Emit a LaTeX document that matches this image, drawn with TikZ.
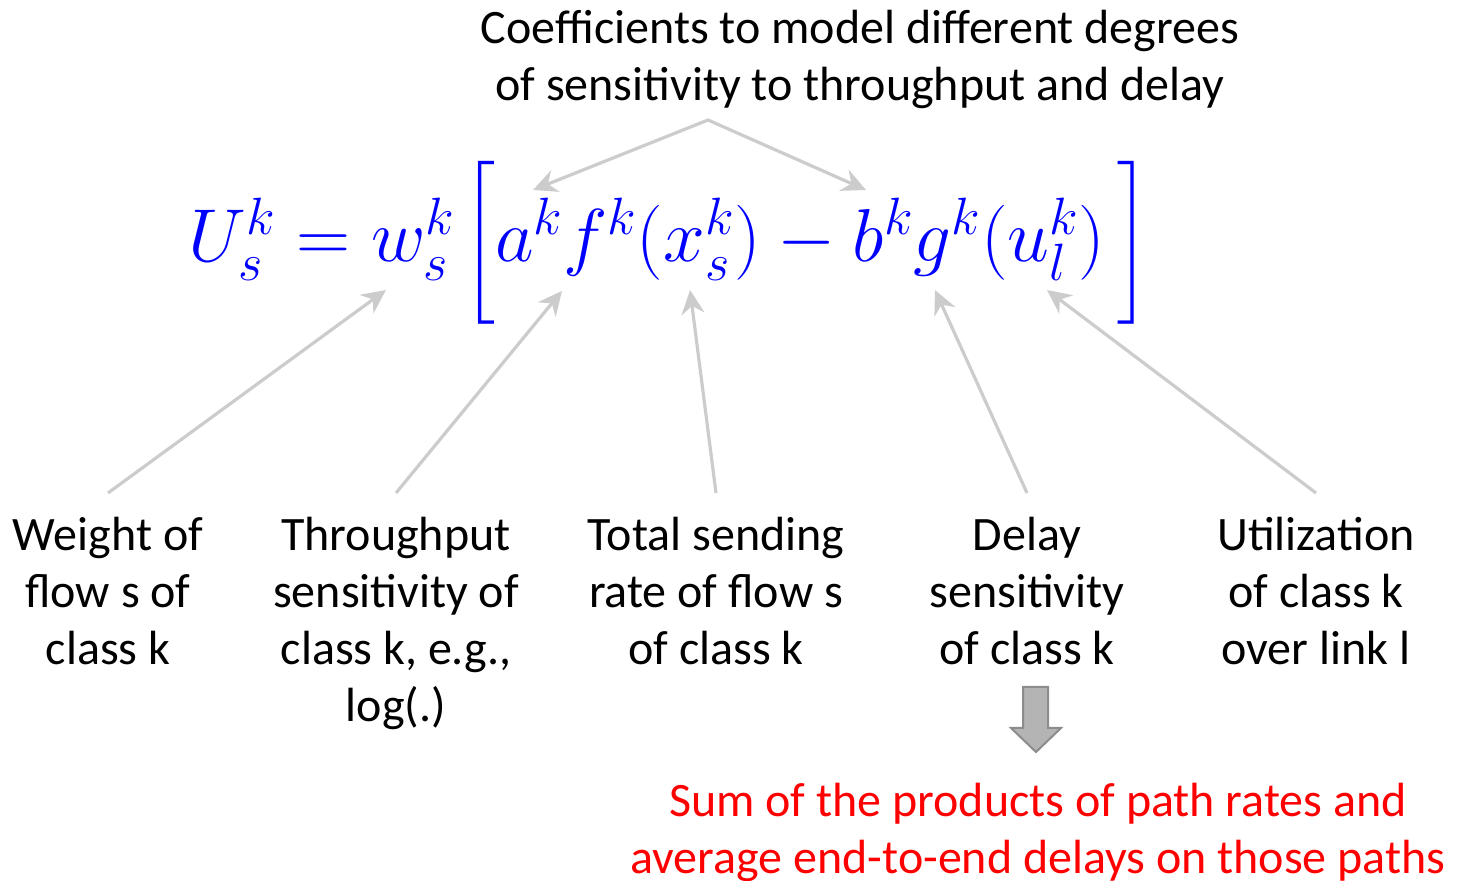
\documentclass[tikz,border=0pt]{standalone}
\usepackage{amsmath}
\usepackage{fix-cm}
\usepackage{fontspec}
\setmainfont{Carlito}
\usetikzlibrary{arrows.meta,positioning}
\definecolor{arrgray}{RGB}{204,204,204}
\definecolor{boxgray}{RGB}{180,180,180}
\definecolor{edgegray}{RGB}{140,140,140}
\newcommand{\bigbrak}[2]{#1{\vcenter{\hbox{\resizebox*{!}{81.5pt}{$#2$}}}}}

\begin{document}
\begin{tikzpicture}[x=0.5pt, y=-0.5pt,
  lbl/.style={align=center, font=\fontsize{24}{28.5}\selectfont, inner xsep=0pt, inner ysep=12pt, anchor=north},
  arr/.style={-{Stealth[length=12pt, width=11.5pt, inset=4pt]}, arrgray, line width=1.6pt}
]
  \useasboundingbox (0,0) rectangle (1463,881);
  \node[lbl, anchor=center] (coef) at (860,59) {Coefficients to model different degrees\\ of sensitivity to throughput and delay};
  \node[text=blue, font=\fontsize{37.5}{40}\selectfont, inner sep=0pt, anchor=base] (eq) at (669,262)
    {$U_s^k = w_s^k \mkern2mu\bigbrak{\mathopen}{\Bigl[} a^k f^k(x_s^k) - b^k g^k(u_l^k) \mkern3mu\bigbrak{\mathclose}{\Bigr]}$};
  % where the arrows point
  \coordinate (apex) at (708,120);
  \coordinate (ha) at (533,190);
  \coordinate (hb) at (866,190);
  \coordinate (hw) at (386,290);
  \coordinate (hf) at (562,291);
  \coordinate (hx) at (690,290);
  \coordinate (hg) at (935,290);
  \coordinate (hu) at (1047,290);
  % labels below
  \node[lbl] (weight) at (108,493) {Weight of\\ flow s of\\ class k};
  \node[lbl] (thru) at (396,493) {Throughput\\ sensitivity of\\ class k, e.g.,\\ log(.)};
  \node[lbl] (rate) at (716,493) {Total sending\\ rate of flow s\\ of class k};
  \node[lbl] (delay) at (1027,493) {Delay\\ sensitivity\\ of class k};
  \node[lbl] (util) at (1316,493) {Utilization\\ of class k\\ over link l};
  \node[lbl, text=red] (sum) at (1038,759) {Sum of the products of path rates and\\ average end-to-end delays on those paths};
  \draw[arr, {Stealth[length=12pt, width=11.5pt, inset=4pt]}-{Stealth[length=12pt, width=11.5pt, inset=4pt]}] (ha) -- (apex) -- (hb);
  \draw[arr] (weight.north) -- (hw);
  \draw[arr] (thru.north) -- (hf);
  \draw[arr] (rate.north) -- (hx);
  \draw[arr] (delay.north) -- (hg);
  \draw[arr] (util.north) -- (hu);
  \draw[fill=boxgray, draw=edgegray, line width=1pt] (1023,687) -- (1048,687) -- (1048,728) -- (1061,728) -- (1036,752) -- (1011,728) -- (1023,728) -- cycle;
\end{tikzpicture}
\end{document}
